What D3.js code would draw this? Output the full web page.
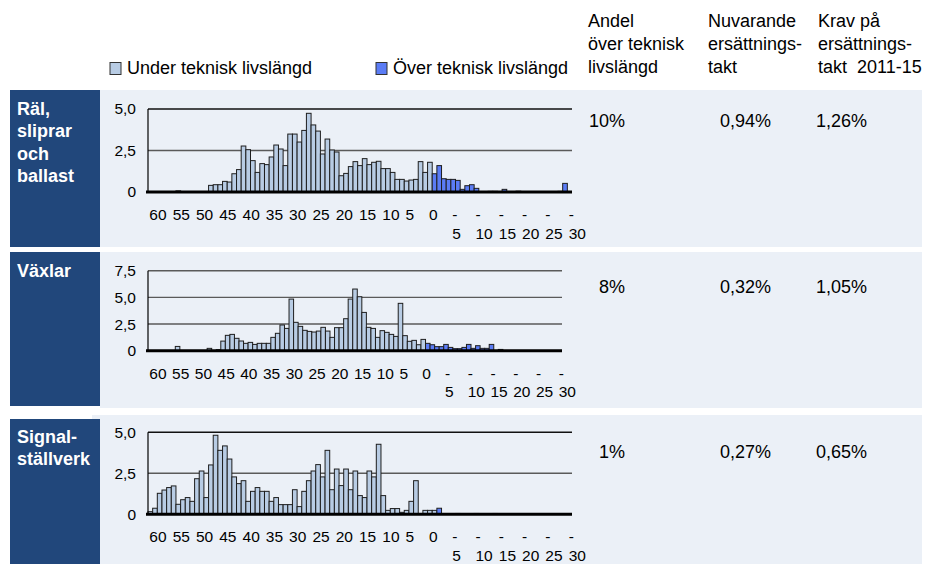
<!DOCTYPE html>
<html>
<head>
<meta charset="utf-8">
<script src="https://cdn.jsdelivr.net/npm/d3@7"></script>
<style>
  body { margin: 0; background: #fff; }
  svg { display: block; font-family: Arial, "Liberation Sans", sans-serif; }
</style>
</head>
<body>
<svg id="chart"></svg>
<script>
// categories: remaining technical life in years (60 down to -30)
const years = d3.range(60, -31, -1)
const tickYears = [60, 55, 50, 45, 40, 35, 30, 25, 20, 15, 10, 5, 0, -5, -10, -15, -20, -25, -30]

const rowNames = [["Räl,", "sliprar", "och", "ballast"], ["Växlar"], ["Signal-", "ställverk"]]
const shareOver = ["10%", "8%", "1%"]
const currentRate = ["0,94%", "0,32%", "0,27%"]
const requiredRate = ["1,26%", "1,05%", "0,65%"]
const yTicks = [[0, 2.5, 5], [0, 2.5, 5, 7.5], [0, 2.5, 5]]
// first year counted as "over technical life"
const overFrom = [-1, -1, -2]

// Räl, sliprar och ballast (index 0 = 60 years left)
const railValues = [
  0, 0, 0, 0, 0, 0, 0.07, 0, 0, 0, 0, 0.03, 0,
  0.40, 0.44, 0.44, 0.64, 0.60, 1.10, 1.35, 2.77, 2.55, 1.89, 1.18, 1.71,
  1.65, 2.11, 2.83, 2.59, 1.59, 3.49, 3.49, 3.01, 3.71, 4.74, 4.04, 3.67,
  2.29, 3.19, 2.53, 2.41, 0.98, 1.12, 1.53, 1.83, 1.59, 2.01, 1.65, 1.79,
  1.85, 1.41, 1.41, 1.18, 0.76, 0.76, 0.66, 0.72, 0.76, 1.83, 1.18, 1.79,
  1.10, 1.59, 0.80, 0.76, 0.76, 0.70, 0.16, 0.38, 0.44, 0.22, 0, 0, 0.04, 0.04,
  0, 0.16, 0, 0, 0.05, 0, 0, 0, 0, 0, 0, 0, 0.03, 0.04, 0.52, 0
]
// Växlar
const switchValues = [
  0, 0, 0, 0, 0, 0, 0.40, 0, 0, 0, 0, 0, 0, 0.22, 0, 0.10,
  0.90, 1.44, 1.53, 1.16, 0.91, 0.69, 0.78, 0.59, 0.69, 0.69, 0.69, 1.25,
  1.63, 2.41, 2.09, 4.84, 2.66, 2.28, 1.91, 1.81, 1.75, 1.84, 2.19, 1.84,
  1.25, 2.16, 2.16, 3.00, 4.84, 5.78, 5.06, 3.59, 2.19, 2.09, 1.25, 1.88,
  1.72, 1.53, 1.34, 4.44, 1.41, 0.88, 0.97, 0.56, 1.06,
  0.69, 0.56, 0.38, 0.38, 0.59, 0.31, 0.19, 0.19, 0.31, 0.59, 0.22, 0.47,
  0.22, 0.22, 0.59, 0.02, 0.12, 0, 0, 0, 0, 0, 0, 0, 0, 0, 0, 0, 0, 0
]
// Signalställverk
const signalValues = [
  0.16, 0.37, 1.28, 1.48, 1.63, 1.73, 0.61, 0.89, 1.02, 0.79, 2.17, 2.64,
  1.02, 3.01, 4.82, 3.90, 4.17, 3.37, 2.28, 1.87, 2.05, 0.79, 1.40, 1.63,
  1.40, 1.40, 0.79, 1.02, 0.59, 0.59, 0.59, 1.50, 0.47, 1.40, 2.05, 2.64,
  3.03, 2.28, 3.90, 1.50, 2.76, 1.75, 2.76, 1.50, 2.64, 1.14, 1.02, 2.64,
  2.28, 4.27, 1.14, 0.24, 0.35, 0.35, 0.12, 0.24, 0.79, 2.05, 0.04, 0.24,
  0.24, 0.24,
  0.37, 0, 0.04, 0.04, 0.05, 0, 0, 0, 0.05, 0, 0, 0, 0.05,
  0, 0, 0, 0, 0, 0, 0, 0, 0, 0, 0, 0, 0, 0, 0, 0
]
const series = [railValues, switchValues, signalValues]

const legendLabels = ["Under teknisk livslängd", "Över teknisk livslängd"]
const headerLines = [
  ["Andel", "över teknisk", "livslängd"],
  ["Nuvarande", "ersättnings-", "takt"],
  ["Krav på", "ersättnings-", "takt  2011-15"],
]

// layout
const width = 928
const height = 564
const colUnder = "#b8cce4"
const colOver = "#5b7cf5"
const panelBg = "#ebf0f7"
const boxBg = "#21477b"

const rows = [
  { panel: [100, 90, 822, 157], box: [10, 90, 90, 157], top: 109, zero: 192, right: 572, nameY: 115, valY: 127 },
  { panel: [100, 252, 822, 156], box: [10, 252, 90, 154], top: 270.7, zero: 350.7, right: 562, nameY: 277, valY: 293 },
  { panel: [92, 415, 830, 149], box: [10, 419, 90, 145], top: 432.3, zero: 514.3, right: 572, nameY: 443, valY: 458 },
]

const svg = d3.select("#chart")
    .attr("width", width)
    .attr("height", height)

const sv = d3.formatLocale({ decimal: ",", thousands: " ", grouping: [3], currency: ["", " kr"] })
const fmt = d => d === 0 ? "0" : sv.format(".1f")(d)

// header legend
const legendX = [110, 376]
legendLabels.forEach((t, i) => {
  svg.append("rect")
      .attr("x", legendX[i]).attr("y", 62.5)
      .attr("width", 11).attr("height", 12)
      .attr("fill", i === 0 ? colUnder : colOver)
      .attr("stroke", "#333").attr("stroke-width", 1)
  svg.append("text")
      .attr("x", legendX[i] + 17).attr("y", 74)
      .attr("font-size", 18).attr("fill", "#000")
      .text(t)
})

// header columns
const headerX = [588, 708, 818]
headerLines.forEach((lines, i) => {
  lines.forEach((l, j) => {
    svg.append("text")
        .attr("x", headerX[i]).attr("y", 27 + j * 23)
        .attr("font-size", 18).attr("fill", "#000")
        .style("white-space", "pre")
        .text(l)
  })
})

rows.forEach((r, k) => {
  const values = series[k]
  const yMax = d3.max(yTicks[k])

  // backgrounds
  svg.append("rect")
      .attr("x", r.panel[0]).attr("y", r.panel[1])
      .attr("width", r.panel[2]).attr("height", r.panel[3])
      .attr("fill", panelBg)
  svg.append("rect")
      .attr("x", r.box[0]).attr("y", r.box[1])
      .attr("width", r.box[2]).attr("height", r.box[3])
      .attr("fill", boxBg)

  rowNames[k].forEach((n, j) => {
    svg.append("text")
        .attr("x", 17).attr("y", r.nameY + j * 22.3)
        .attr("font-size", 18).attr("font-weight", "bold")
        .attr("fill", "#fff")
        .text(n)
  })

  // table values
  svg.append("text")
      .attr("x", 625).attr("y", r.valY)
      .attr("text-anchor", "end")
      .attr("font-size", 18)
      .text(shareOver[k])
  svg.append("text")
      .attr("x", 720).attr("y", r.valY)
      .attr("font-size", 18)
      .text(currentRate[k])
  svg.append("text")
      .attr("x", 816).attr("y", r.valY)
      .attr("font-size", 18)
      .text(requiredRate[k])

  // scales
  const x = d3.scaleBand()
    .domain(years)
    .range([148, r.right])
    .padding(0)
  const y = d3.scaleLinear()
    .domain([0, yMax])
    .range([r.zero, r.top])

  const g = svg.append("g")

  // gridlines
  g.selectAll(".grid")
    .data(yTicks[k].filter(d => d > 0))
    .join("line")
      .attr("x1", 148).attr("x2", r.right)
      .attr("y1", d => y(d)).attr("y2", d => y(d))
      .attr("stroke", d => d === yMax && k !== 1 ? "#111" : "#5a5a5a")
      .attr("stroke-width", 1.4)

  // y axis labels
  const yAxis = d3.axisLeft(y)
    .tickValues(yTicks[k])
    .tickFormat(fmt)
    .tickSize(0)
    .tickPadding(12)
  const ya = g.append("g")
      .attr("transform", "translate(148,0)")
      .call(yAxis)
  ya.select(".domain").remove()
  ya.selectAll("text")
      .attr("font-size", 15.5)
      .attr("font-family", "Arial, 'Liberation Sans', sans-serif")
      .attr("fill", "#000")

  // bars
  g.selectAll(".bar")
    .data(years.map((yr, i) => ({ yr, v: values[i] })).filter(d => d.v > 0))
    .join("rect")
      .attr("x", d => x(d.yr))
      .attr("width", x.bandwidth())
      .attr("y", d => y(d.v))
      .attr("height", d => r.zero - y(d.v))
      .attr("fill", d => d.yr <= overFrom[k] ? colOver : colUnder)
      .attr("stroke", "#1e1e1e")
      .attr("stroke-width", 1)

  // axis lines
  g.append("line")
      .attr("x1", 148).attr("x2", 148)
      .attr("y1", r.top).attr("y2", r.zero)
      .attr("stroke", "#000").attr("stroke-width", 1.2)
  g.append("line")
      .attr("x1", 146).attr("x2", r.right)
      .attr("y1", r.zero).attr("y2", r.zero)
      .attr("stroke", "#000").attr("stroke-width", 3)

  // x labels, left aligned at category centre, negatives wrapped
  tickYears.forEach(yr => {
    const t = g.append("text")
        .attr("x", x(yr) + x.bandwidth() / 2 - 1)
        .attr("y", r.zero + 28)
        .attr("font-size", 15.5)
        .attr("fill", "#000")
    if (yr < 0) {
      t.append("tspan").text("-")
      t.append("tspan")
          .attr("x", x(yr) + x.bandwidth() / 2 - 1)
          .attr("dy", 18.5)
          .text(String(-yr))
    } else {
      t.text(String(yr))
    }
  })
})
</script>
</body>
</html>
